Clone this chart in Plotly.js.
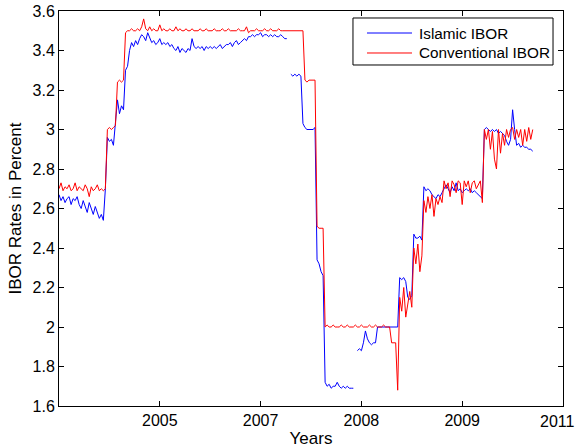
<!DOCTYPE html>
<html>
<head>
<meta charset="utf-8">
<script src="https://cdn.plot.ly/plotly-3.0.1.min.js"></script>
<style>
html,body{margin:0;padding:0;background:#fff;}
#chart{width:577px;height:448px;}
</style>
</head>
<body>
<div id="chart"></div>
<script>
// Observation index (one sample per ~2 px of the original time axis)
var tickVals = [50, 100, 150, 200, 250];
var tickLabels = ["2005", "2007", "2008", "2009", ""];
var lastTickLabel = "2011";
var yTickVals = [1.6, 1.8, 2, 2.2, 2.4, 2.6, 2.8, 3, 3.2, 3.4, 3.6];
var yTickLabels = ["1.6", "1.8", "2", "2.2", "2.4", "2.6", "2.8", "3", "3.2", "3.4", "3.6"];
var seriesNames = ["Islamic IBOR", "Conventional IBOR"];
var seriesColors = ["#0000ff", "#ff0000"];

// Islamic IBOR (blue), null = gap in the series
var islamic = [
  2.67, 2.64, 2.66, 2.63, 2.65, 2.66, 2.62, 2.65, 2.64, 2.66,
  2.62, 2.60, 2.64, 2.61, 2.58, 2.63, 2.60, 2.57, 2.61, 2.58,
  2.55, 2.57, 2.54, 2.70, 2.96, 2.94, 2.95, 2.92, 3.05, 3.15,
  3.08, 3.12, 3.10, 3.30, 3.32, 3.40, 3.44, 3.42, 3.45, 3.43,
  3.46, 3.48, 3.47, 3.45, 3.49, 3.46, 3.44, 3.45, 3.43, 3.44,
  3.46, 3.43, 3.44, 3.43, 3.44, 3.42, 3.43, 3.41, 3.40, 3.42,
  3.39, 3.41, 3.40, 3.39, 3.41, 3.40, 3.46, 3.42, 3.41, 3.42,
  3.41, 3.42, 3.40, 3.42, 3.41, 3.42, 3.41, 3.42, 3.41, 3.42,
  3.43, 3.41, 3.42, 3.43, 3.43, 3.44, 3.42, 3.44, 3.45, 3.43,
  3.44, 3.45, 3.46, 3.45, 3.47, 3.47, 3.48, 3.47, 3.48, 3.48,
  3.49, 3.47, 3.48, 3.48, 3.47, 3.48, 3.47, 3.48, 3.47, 3.47,
  3.48, 3.47, 3.46, 3.46, null, 3.28, 3.27, 3.28, 3.27, 3.28,
  3.27, 3.03, 3.01, 3.00, 3.00, 3.00, 3.00, 3.01, 2.34, 2.32,
  2.28, 2.26, 1.72, 1.70, 1.71, 1.69, 1.70, 1.70, 1.72, 1.70,
  1.69, 1.70, 1.69, 1.70, 1.69, 1.69, 1.69, null, 1.88, 1.89,
  1.88, 1.92, 1.98, 1.94, 1.92, 1.91, 1.92, 1.92, 2.00, 2.00,
  2.00, 2.00, 2.00, 2.00, 2.00, 2.00, 2.00, 2.00, 2.00, 2.25,
  2.24, 2.25, 2.23, 2.15, 2.14, 2.16, 2.47, 2.45, 2.45, 2.46,
  2.44, 2.71, 2.69, 2.70, 2.69, 2.67, 2.66, 2.65, 2.67, 2.66,
  2.68, 2.70, 2.72, 2.70, 2.68, 2.71, 2.69, 2.73, 2.69, 2.70,
  2.68, 2.69, 2.70, 2.69, 2.70, 2.68, 2.69, 2.68, 2.67, 2.66,
  2.65, 3.00, 3.01, 3.00, 2.99, 3.00, 2.99, 3.00, 2.98, 2.99,
  2.98, 2.97, 2.94, 2.92, 2.95, 3.10, 3.00, 2.92, 2.93, 2.91,
  2.92, 2.91, 2.91, 2.90, 2.90, 2.89
];

// Conventional IBOR (red)
var conventional = [
  2.70, 2.73, 2.69, 2.71, 2.70, 2.72, 2.69, 2.70, 2.73, 2.69,
  2.71, 2.70, 2.69, 2.72, 2.70, 2.66, 2.71, 2.69, 2.70, 2.72,
  2.69, 2.70, 2.69, 2.70, 3.00, 3.01, 3.00, 3.01, 3.02, 3.24,
  3.25, 3.24, 3.25, 3.49, 3.50, 3.50, 3.51, 3.50, 3.50, 3.51,
  3.50, 3.52, 3.56, 3.51, 3.50, 3.52, 3.50, 3.51, 3.50, 3.50,
  3.53, 3.50, 3.51, 3.50, 3.50, 3.51, 3.50, 3.50, 3.52, 3.50,
  3.51, 3.50, 3.50, 3.51, 3.50, 3.50, 3.51, 3.50, 3.50, 3.50,
  3.51, 3.50, 3.50, 3.51, 3.50, 3.50, 3.50, 3.51, 3.50, 3.50,
  3.50, 3.51, 3.50, 3.50, 3.51, 3.50, 3.50, 3.50, 3.50, 3.51,
  3.50, 3.50, 3.50, 3.52, 3.49, 3.50, 3.50, 3.50, 3.51, 3.50,
  3.50, 3.50, 3.51, 3.50, 3.50, 3.51, 3.50, 3.50, 3.50, 3.51,
  3.50, 3.50, 3.50, 3.50, 3.50, 3.50, 3.50, 3.50, 3.50, 3.50,
  3.50, 3.50, 3.25, 3.24, 3.25, 3.25, 3.25, 3.25, 2.51, 2.50,
  2.50, 2.50, 2.00, 2.01, 2.00, 2.00, 2.01, 2.00, 2.00, 2.00,
  2.01, 2.00, 2.00, 2.01, 2.00, 2.00, 2.00, 2.01, 2.00, 2.00,
  2.01, 2.00, 2.00, 2.00, 2.01, 2.00, 2.00, 2.01, 2.00, 2.00,
  2.00, 2.01, 2.00, 2.00, 2.00, 1.92, 1.92, 1.92, 1.68, 2.15,
  2.08, 2.20, 2.05, 2.12, 2.18, 2.10, 2.40, 2.32, 2.42, 2.28,
  2.36, 2.64, 2.58, 2.66, 2.60, 2.67, 2.56, 2.65, 2.62, 2.66,
  2.63, 2.74, 2.70, 2.73, 2.66, 2.74, 2.72, 2.68, 2.74, 2.73,
  2.62, 2.74, 2.71, 2.74, 2.68, 2.73, 2.74, 2.70, 2.72, 2.74,
  2.63, 3.00, 2.95, 3.00, 2.90, 2.99, 2.85, 2.80, 3.00, 2.88,
  2.98, 2.92, 3.00, 2.96, 3.00, 3.01, 2.95, 3.00, 2.96, 3.00,
  2.92, 3.00, 2.94, 3.01, 2.95, 3.00
];

function idx(arr) { var o = []; for (var i = 0; i < arr.length; i++) o.push(i); return o; }

var font = "Liberation Sans, Arial, sans-serif";

var traces = [
  {x: idx(islamic), y: islamic, type: "scatter", mode: "lines", name: seriesNames[0],
   line: {color: seriesColors[0], width: 1}, connectgaps: false},
  {x: idx(conventional), y: conventional, type: "scatter", mode: "lines", name: seriesNames[1],
   line: {color: seriesColors[1], width: 1}}
];

var axisCommon = {
  showline: true, linecolor: "#000", linewidth: 1, mirror: "ticks",
  ticks: "inside", ticklen: 5, tickcolor: "#000", tickwidth: 1,
  showgrid: false, zeroline: false,
  tickfont: {family: font, size: 16, color: "#000"}
};

// Legend drawn as a boxed key in paper coordinates (top right of the axes)
var legendBox = {x0: 0.5833, x1: 0.9802, y0: 0.8633, y1: 0.9823};
var legendRows = [0.9443, 0.8937];
var shapes = [{type: "rect", xref: "paper", yref: "paper",
  x0: legendBox.x0, x1: legendBox.x1, y0: legendBox.y0, y1: legendBox.y1,
  line: {color: "#000", width: 1}, fillcolor: "#fff", layer: "above"}];
var annotations = [];
for (var k = 0; k < seriesNames.length; k++) {
  shapes.push({type: "line", xref: "paper", yref: "paper",
    x0: 0.6111, x1: 0.7004, y0: legendRows[k], y1: legendRows[k],
    line: {color: seriesColors[k], width: 1}, layer: "above"});
  annotations.push({xref: "paper", yref: "paper", x: 0.7103, y: legendRows[k],
    xanchor: "left", yanchor: "middle", showarrow: false, text: seriesNames[k],
    font: {family: font, size: 15.3, color: "#000"}});
}
// Last x tick label sits at the right edge of the axes; keep it inside the page
annotations.push({xref: "paper", yref: "paper", x: 1.0258, y: -0.0152,
  xanchor: "right", yanchor: "top", showarrow: false, text: lastTickLabel,
  font: {family: font, size: 16, color: "#000"}, borderpad: 0});

var layout = {
  width: 577, height: 448,
  margin: {l: 59, r: 14, t: 11, b: 42, pad: 0},
  paper_bgcolor: "#fff", plot_bgcolor: "#fff",
  showlegend: false,
  shapes: shapes,
  annotations: annotations,
  xaxis: Object.assign({}, axisCommon, {
    range: [0, 250], tickvals: tickVals, ticktext: tickLabels,
    title: {text: "Years", font: {family: font, size: 17, color: "#000"}, standoff: 3}
  }),
  yaxis: Object.assign({}, axisCommon, {
    range: [1.6, 3.6], tickvals: yTickVals, ticktext: yTickLabels,
    title: {text: "IBOR Rates in Percent", font: {family: font, size: 17, color: "#000"}, standoff: 6}
  })
};

Plotly.newPlot("chart", traces, layout, {displayModeBar: false, staticPlot: true});
</script>
</body>
</html>
